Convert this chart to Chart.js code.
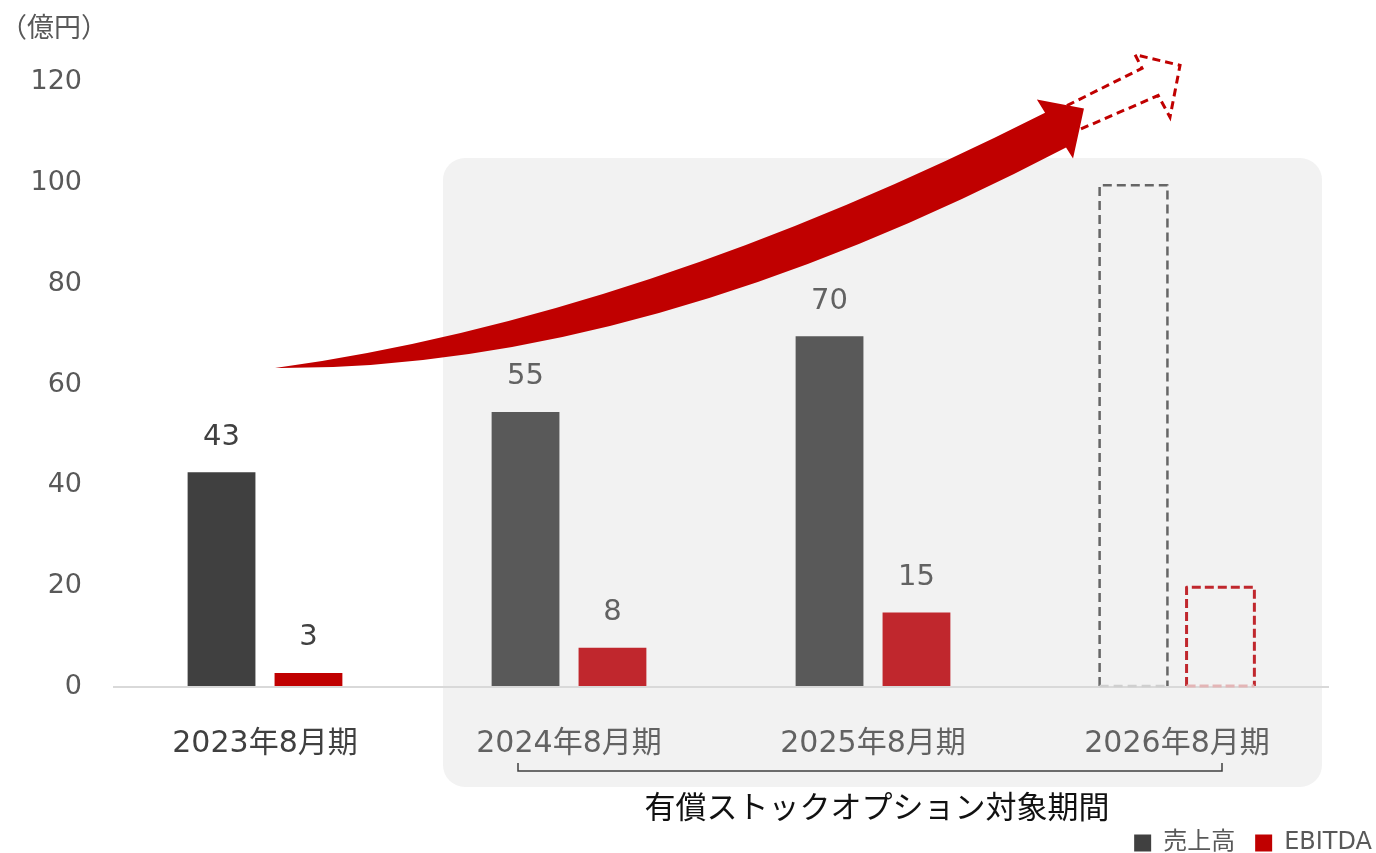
<!DOCTYPE html>
<html>
<head>
<meta charset="utf-8">
<script src="https://cdn.jsdelivr.net/npm/chart.js@4.4.1/dist/chart.umd.min.js"></script>
<style>
  html, body { margin: 0; padding: 0; background: #ffffff; }
  #wrap { width: 1376px; height: 853px; }
</style>
</head>
<body>
<div id="wrap"><canvas id="c" width="1376" height="853"></canvas></div>
<script>
// ---- data ----
const categories = ['2023年8月期', '2024年8月期', '2025年8月期', '2026年8月期'];
const seriesNames = ['売上高', 'EBITDA'];
const sales = [42.6, 54.6, 69.6, 99.6];
const ebitda = [2.8, 7.8, 14.8, 19.8];
const salesLabels = ['43', '55', '70', ''];
const ebitdaLabels = ['3', '8', '15', ''];
const projected = [false, false, false, true];
const yMin = 0, yMax = 120, yStep = 20;
const unitLabel = '（億円）';
const periodLabel = '有償ストックオプション対象期間';

// ---- styles ----
const FONT = '"DejaVu Sans", "Noto Sans CJK JP", sans-serif';
const salesColors = ['#404040', '#595959', '#595959', 'rgba(0,0,0,0)'];
const ebitdaColors = ['#C00000', '#C0272D', '#C0272D', 'rgba(0,0,0,0)'];
const legendColors = ['#404040', '#C00000'];
const textColors = ['#404040', '#626262', '#626262', '#626262'];

const decorPlugin = {
  id: 'decor',
  beforeDraw(chart) {
    const {ctx} = chart;
    const xs = chart.scales.x, ys = chart.scales.y;
    ctx.save();
    ctx.fillStyle = '#ffffff';
    ctx.fillRect(0, 0, chart.width, chart.height);
    // grey panel for the stock option period
    const c1 = xs.getPixelForValue(1), c3 = xs.getPixelForValue(3);
    const base = ys.getPixelForValue(0);
    const left = c1 - 126, right = c3 + 145;
    const top = ys.getPixelForValue(105), bottom = base + 100;
    ctx.fillStyle = '#F2F2F2';
    ctx.beginPath();
    ctx.roundRect(left, top, right - left, bottom - top, 22);
    ctx.fill();
    ctx.restore();
  },
  afterDatasetsDraw(chart) {
    const {ctx} = chart;
    const xs = chart.scales.x, ys = chart.scales.y;
    const x0 = xs.getPixelForValue(0);
    const step = xs.getPixelForValue(1) - x0;
    const P = (i, v) => [x0 + i * step, ys.getPixelForValue(v)];
    const base = ys.getPixelForValue(0);
    ctx.save();

    // dashed outlines for projected bars
    const dashStyles = [
      {color: '#666666', bottom: '#CFCFCF', width: 2.5, dash: [9, 5]},
      {color: '#C0272D', bottom: '#E3B5B6', width: 3, dash: [9, 4]}
    ];
    chart.data.datasets.forEach((ds, di) => {
      const meta = chart.getDatasetMeta(di);
      meta.data.forEach((el, i) => {
        if (!projected[i]) return;
        const st = dashStyles[di];
        const l = el.x - el.width / 2, r = el.x + el.width / 2, t = el.y, b = el.base;
        ctx.lineWidth = st.width;
        ctx.setLineDash(st.dash);
        ctx.lineJoin = 'round';
        ctx.strokeStyle = st.color;
        ctx.beginPath();
        ctx.moveTo(l, b); ctx.lineTo(l, t); ctx.lineTo(r, t); ctx.lineTo(r, b);
        ctx.stroke();
        ctx.strokeStyle = st.bottom;
        ctx.beginPath();
        ctx.moveTo(l, b); ctx.lineTo(r, b);
        ctx.stroke();
      });
    });
    ctx.setLineDash([]);

    // value labels
    const labelSets = [salesLabels, ebitdaLabels];
    ctx.font = '29px ' + FONT;
    ctx.textAlign = 'center';
    ctx.textBaseline = 'middle';
    chart.data.datasets.forEach((ds, di) => {
      const meta = chart.getDatasetMeta(di);
      meta.data.forEach((el, i) => {
        const txt = labelSets[di][i];
        if (!txt) return;
        ctx.fillStyle = textColors[i];
        ctx.fillText(txt, el.x, el.y - 35);
      });
    });

    // growth arrow (solid)
    const mv = (p) => ctx.moveTo(p[0], p[1]);
    const ln = (p) => ctx.lineTo(p[0], p[1]);
    const qd = (c, p) => ctx.quadraticCurveTo(c[0], c[1], p[0], p[1]);
    ctx.fillStyle = '#C00000';
    ctx.beginPath();
    mv(P(0.033, 63.3));
    qd(P(1.234, 73.4), P(2.566, 114.0));
    ln(P(2.539, 116.6));
    ln(P(2.694, 114.8));
    ln(P(2.658, 104.9));
    ln(P(2.635, 107.1));
    qd(P(1.234, 62.9), P(0.033, 63.3));
    ctx.closePath();
    ctx.fill();

    // growth arrow continuation (dashed outline)
    ctx.strokeStyle = '#C00000';
    ctx.lineWidth = 3;
    ctx.setLineDash([8, 5]);
    ctx.lineJoin = 'miter';
    ctx.beginPath();
    mv(P(2.638, 115.4));
    ln(P(2.885, 122.8));
    ln(P(2.862, 125.5));
    ln(P(3.010, 123.4));
    ln(P(2.977, 113.1));
    ln(P(2.938, 117.4));
    ln(P(2.674, 110.5));
    ctx.stroke();
    ctx.setLineDash([]);

    // bracket and period label
    const c1 = xs.getPixelForValue(1), c3 = xs.getPixelForValue(3);
    const bl = c1 - 51, br = c3 + 45, by = base + 84;
    ctx.strokeStyle = '#404040';
    ctx.lineWidth = 1.5;
    ctx.beginPath();
    ctx.moveTo(bl, by - 8); ctx.lineTo(bl, by); ctx.lineTo(br, by); ctx.lineTo(br, by - 8);
    ctx.stroke();
    ctx.fillStyle = '#111111';
    ctx.font = '31px ' + FONT;
    ctx.textAlign = 'center';
    ctx.textBaseline = 'middle';
    ctx.fillText(periodLabel, (bl + br) / 2 + 7, base + 123);
    ctx.restore();
  },
  afterLayout(chart) {
    const L = chart.legend;
    if (L) { L.left += 63; L.right += 63; L.top += 12; L.bottom += 12; }
  }
};

new Chart(document.getElementById('c'), {
  type: 'bar',
  data: {
    labels: categories,
    datasets: [
      {label: seriesNames[0], data: sales, backgroundColor: salesColors, borderWidth: 0,
       categoryPercentage: 0.572, barPercentage: 0.78},
      {label: seriesNames[1], data: ebitda, backgroundColor: ebitdaColors, borderWidth: 0,
       categoryPercentage: 0.572, barPercentage: 0.78}
    ]
  },
  options: {
    responsive: false,
    animation: false,
    devicePixelRatio: 1,
    layout: {padding: {left: 0, right: 47, top: 0, bottom: 0}},
    plugins: {
      title: {
        display: true, text: unitLabel, align: 'start', color: '#595959',
        font: {family: FONT, size: 27, weight: 'normal'},
        padding: {top: 14, bottom: 36}
      },
      legend: {
        display: true, position: 'bottom', align: 'end',
        labels: {
          color: '#595959', font: {family: FONT, size: 24},
          boxWidth: 17, boxHeight: 17, padding: 20,
          generateLabels: (chart) => seriesNames.map((n, i) => ({
            text: n, fillStyle: legendColors[i], strokeStyle: legendColors[i],
            lineWidth: 0, datasetIndex: i, hidden: false, fontColor: '#595959'
          }))
        }
      },
      tooltip: {enabled: false}
    },
    scales: {
      x: {
        grid: {display: false},
        border: {display: false},
        ticks: {
          color: (ctx) => textColors[ctx.index] || '#595959',
          font: {family: FONT, size: 30},
          padding: 31, maxRotation: 0
        },
        afterFit: (s) => { s.height = 112; }
      },
      y: {
        min: yMin, max: yMax,
        border: {display: false},
        grid: {
          drawTicks: false, lineWidth: 2,
          color: (ctx) => (ctx.tick && ctx.tick.value === 0) ? '#D9D9D9' : 'rgba(0,0,0,0)'
        },
        ticks: {
          stepSize: yStep, color: '#595959',
          font: {family: FONT, size: 27}, padding: 31
        },
        afterFit: (s) => { s.width = 113; }
      }
    }
  },
  plugins: [decorPlugin]
});
</script>
</body>
</html>
